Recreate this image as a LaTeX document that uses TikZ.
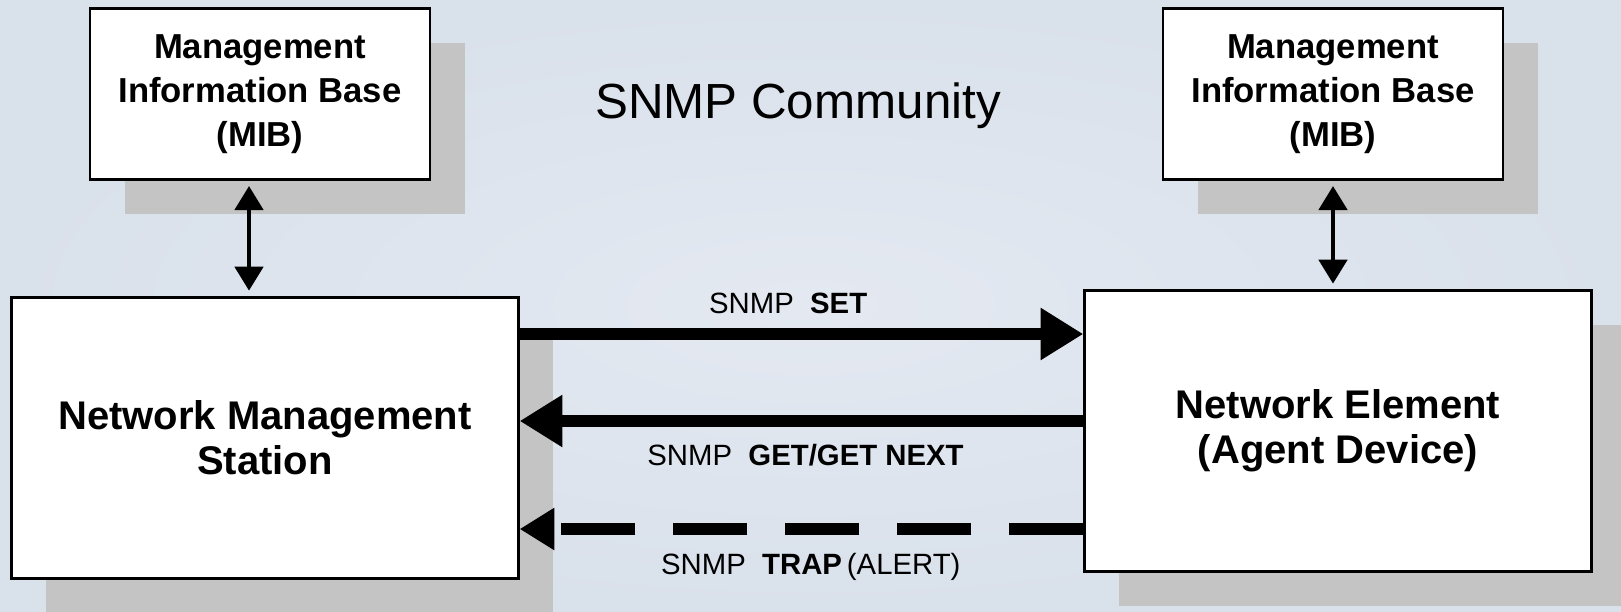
\documentclass[tikz,border=0pt]{standalone}
\usepackage{fontspec}
\setmainfont{Liberation Sans}
\usepackage{tikz}
\usetikzlibrary{arrows.meta, % for the big arrow heads
                shadows, % for box shadows
                calc,
                positioning}

\definecolor{bgin}{RGB}{228,233,241}
\definecolor{bgout}{RGB}{217,225,235}
\definecolor{shadegray}{RGB}{196,196,196}

\newdimen\px
\px = 0.75pt

\begin{document}
\begin{tikzpicture}[%
    x=\px, y=-\px,
    Box/.style={draw, line width=2pt, fill=white, rectangle, align=center,
        drop shadow={shadow xshift=26pt, shadow yshift=-26pt, fill=shadegray, opacity=1}},
    MIB/.style={Box, minimum width=255pt, minimum height=128pt,
        font=\fontsize{26pt}{33pt}\selectfont\bfseries},
    Device/.style={Box, minimum width=380pt, minimum height=211pt,
        font=\fontsize{30pt}{34pt}\selectfont\bfseries},
    Link/.style={line width=3.5pt, {Triangle[length=18pt, width=21pt]}-{Triangle[length=18pt, width=21pt]},
        shorten <=4pt, shorten >=4pt},
    Msg/.style={line width=8.5pt, -{Triangle[length=32pt, width=37pt]}},
    Trap/.style={line width=8.5pt, dash pattern=on 56pt off 28pt, -{Triangle[length=26pt, width=30pt]}},
    Label/.style={font=\fontsize{22pt}{26pt}\selectfont}
    ]

    %background
    \useasboundingbox (0,0) rectangle (1621,611);
    \shade[inner color=bgin, outer color=bgout] (0,0) rectangle (1621,611);
    \clip (0,0) rectangle (1621,611);

    %MIB nodes
    \node[MIB] at (260,94)   (mibNMS) {Management\\Information Base\\(MIB)};
    \node[MIB] at (1333,94)  (mibNE)  {Management\\Information Base\\(MIB)};

    %station and agent
    \node[Device] at (265,438)  (nms) {Network Management\\Station};
    \node[Device] at (1338,431) (ne)  {Network Element\\(Agent Device)};

    \node[font=\fontsize{37pt}{40pt}\selectfont] at (798,106) (title) {SNMP Community};

    \draw[Link] ([xshift=-8.25pt]mibNMS.south) -- ([xshift=-8.25pt]mibNMS.south |- nms.north);
    \draw[Link] (mibNE.south) -- (mibNE.south |- ne.north);

    %messages
    \draw[Msg] ([yshift=78pt]nms.east) -- ([yshift=78pt]nms.east -| ne.west)
        node[Label, midway, yshift=23pt, xshift=-10pt] {SNMP\ \ \textbf{SET}};
    \draw[Msg] ([yshift=7.5pt]ne.west) -- ([yshift=7.5pt]ne.west -| nms.east)
        node[Label, midway, yshift=-25.5pt, xshift=3pt] {SNMP\ \ \textbf{GET/GET NEXT}};
    \draw[Trap] ([yshift=-73.5pt]ne.west) -- ([yshift=-73.5pt]ne.west -| nms.east)
        node[Label, midway, yshift=-28.5pt, xshift=7pt] {SNMP\ \ \textbf{TRAP}\,(ALERT)};
\end{tikzpicture}
\end{document}
